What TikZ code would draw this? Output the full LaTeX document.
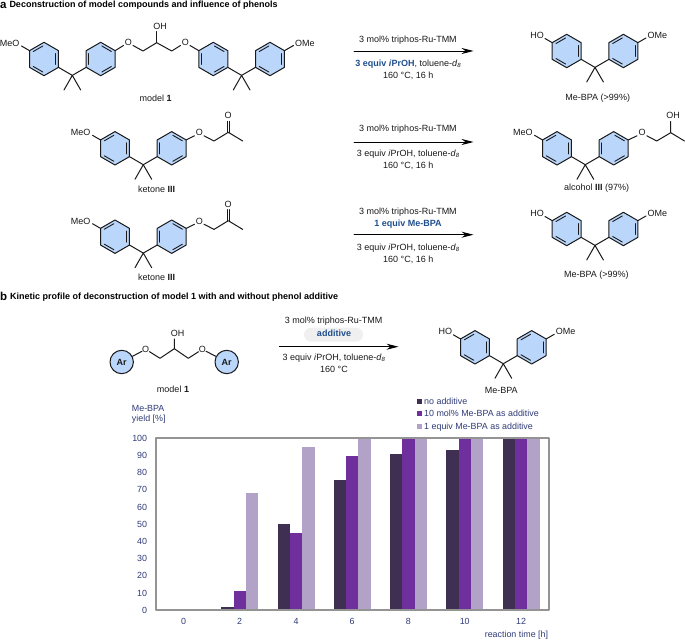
\documentclass[tikz,border=0pt]{standalone}
\usepackage{fontspec}
\setmainfont{Liberation Sans}
\usetikzlibrary{arrows.meta}
\definecolor{ringblue}{HTML}{BAD6FB}
\definecolor{condblue}{HTML}{1F4E8C}
\definecolor{chartblue}{HTML}{2F3B78}
\definecolor{bardark}{HTML}{3F2F52}
\definecolor{barmid}{HTML}{6F2F9D}
\definecolor{barlight}{HTML}{B2A2C7}
\tikzset{
  bond/.style={line width=1pt,color=black!90},
  inbond/.style={line width=0.9pt,color=black!90},
  atomlabel/.style={inner sep=0pt,font=\fontsize{9}{10}\selectfont,color=black!90},
  txt/.style={inner sep=0pt,font=\fontsize{9}{10}\selectfont,color=black!90},
  head/.style={inner sep=0pt,anchor=west,font=\fontsize{9}{10}\selectfont\bfseries},
  letter/.style={inner sep=0pt,anchor=west,font=\fontsize{11.5}{10}\selectfont\bfseries},
  hlcond/.style={txt,font=\fontsize{9}{10}\selectfont\bfseries,color=condblue},
  arnode/.style={draw,circle,bond,fill=ringblue,minimum size=23.4pt,inner sep=0pt,font=\fontsize{9}{10}\selectfont\bfseries},
  chartlbl/.style={inner sep=0pt,font=\fontsize{8.9}{10}\selectfont,color=chartblue},
  rxn/.style={->,>={Stealth[length=12pt,width=6pt]},line width=0.9pt},
  barframe/.style={line width=1.7pt,color=black!42},
}
% hexagon around (#1,#2), #3 turns the inner bonds
\newcommand{\arene}[3]{%
  \begin{scope}[shift={(#1,#2)}]
  \draw[bond,fill=ringblue,line join=round] (90:16.7)--(150:16.7)--(210:16.7)--(270:16.7)--(330:16.7)--(30:16.7)--cycle;
  \foreach \m in {0,120,240}
    \draw[inbond] ({\m+#3-25}:13.06)--({\m+#3+25}:13.06);
  \end{scope}}
% two rings and the CMe2 between them
\newcommand{\bpa}[4]{%
  \arene{#1}{#2}{#3}
  \arene{#1+56.7}{#2}{#4}
  \begin{scope}[shift={(#1,#2)},line cap=round]
  \draw[bond] (14.5,8.35)--(28.3,16.4)--(42.2,8.35);
  \draw[bond] (20,31)--(28.3,16.4)--(36.7,31);
  \end{scope}}
\begin{document}
\begin{tikzpicture}[x=1pt,y=-1pt,line cap=round,line join=round]
\useasboundingbox (0,0) rectangle (685,644);
\node[letter] (heada) at (0,5.2) {a};
\node[head] (titlea) at (9.3,5.2) {Deconstruction of model compounds and influence of phenols};
\node[letter] (headb) at (0,296.8) {b};
\node[head] (titleb) at (10,297.3) {Kinetic profile of deconstruction of model 1 with and without phenol additive};
% model 1
\bpa{44}{59}{0}{60}
\bpa{213.3}{59}{60}{0}
\node[atomlabel,anchor=east] (meoa) at (19.5,43) {MeO};
\draw[bond] (29.5,50.65)--(21.5,46);
\node[atomlabel] (oa) at (128.3,42.3) {O};
\node[atomlabel] (ob) at (185.3,42.3) {O};
\node[atomlabel] (oha) at (160,26.3) {OH};
\node[atomlabel,anchor=west] (omea) at (295,43) {OMe};
\draw[bond] (115.2,50.65)--(123.5,45.5) (133,45.5)--(143,51)--(156.7,42.7)--(171.7,51)--(180.5,45.5) (190,45.5)--(198.8,50.65);
\draw[bond] (156.7,42.7)--(156.7,31.5);
\draw[bond] (284.5,50.65)--(293.5,45.5);
\node[txt] (lblmodela) at (155.7,98) {model \textbf{1}};
% ketone III, twice
\foreach \y/\n in {148.3/k,236.7/l}{
  \bpa{115}{\y}{0}{60}
  \node[atomlabel,anchor=east] (meo\n) at (90.7,\y-15.5) {MeO};
  \node[atomlabel] (o\n) at (199.3,\y-15.5) {O};
  \node[atomlabel] (co\n) at (228,\y-32.5) {O};
  \draw[bond] (100.5,\y-8.35)--(92.5,\y-13);
  \draw[bond] (186.2,\y-8.35)--(194.5,\y-12.5) (204,\y-12.5)--(214,\y-7.3)--(228.3,\y-16)--(242.7,\y-7.3);
  \draw[bond] (227,\y-16)--(227,\y-27) (229.6,\y-16)--(229.6,\y-27);
}
\node[txt] (lblketa) at (156.7,189.3) {ketone \textbf{III}};
\node[txt] (lblketb) at (156.7,277) {ketone \textbf{III}};
% products
\bpa{566.7}{51}{0}{0}
\node[atomlabel,anchor=east] (hoa) at (544,35) {HO};
\node[atomlabel,anchor=west] (omeb) at (647.3,35) {OMe};
\draw[bond] (552.2,42.65)--(545,38.5) (637.8,42.65)--(646,38);
\node[txt] (lblbpaa) at (597.7,97.7) {Me-BPA (>99\%)};
\bpa{557}{148.3}{0}{60}
\node[atomlabel,anchor=east] (meoc) at (532.7,132.8) {MeO};
\node[atomlabel] (oc) at (642,132.8) {O};
\node[atomlabel] (ohc) at (673,115.7) {OH};
\draw[bond] (542.5,139.95)--(534.5,135.3) (628.2,139.95)--(637,135.8) (646.8,135.8)--(656.7,141)--(670.7,132.7)--(684.5,141) (670.7,132.7)--(670.7,121.5);
\node[txt] (lblalc) at (596.7,187.7) {alcohol \textbf{III} (97\%)};
\bpa{566.7}{229}{0}{0}
\node[atomlabel,anchor=east] (hob) at (544,213) {HO};
\node[atomlabel,anchor=west] (omec) at (647.3,213) {OMe};
\draw[bond] (552.2,220.65)--(545,216.5) (637.8,220.65)--(646,216);
\node[txt] (lblbpab) at (596.3,274.7) {Me-BPA (>99\%)};
% arrows and conditions
\coordinate (arrAs) at (354,51);
\coordinate (arrAe) at (473.5,51);
\coordinate (arrBs) at (354,142);
\coordinate (arrBe) at (473.5,142);
\coordinate (arrCs) at (354,234.7);
\coordinate (arrCe) at (473.5,234.7);
\draw[rxn] (arrAs)--(arrAe);
\draw[rxn] (arrBs)--(arrBe);
\draw[rxn] (arrCs)--(arrCe);
\node[txt] (cata) at (408,39.7) {3 mol\% triphos-Ru-TMM};
\node[txt] (conda) at (408.3,63.7) {\textcolor{condblue}{\textbf{3 equiv \textit{i}PrOH}}, toluene-\textit{d}\textsubscript{\textit{8}}};
\node[txt] (tempa) at (408.3,75.7) {160 °C, 16 h};
\node[txt] (catb) at (408,129.5) {3 mol\% triphos-Ru-TMM};
\node[txt] (condb) at (408.3,154) {3 equiv \textit{i}PrOH, toluene-\textit{d}\textsubscript{\textit{8}}};
\node[txt] (tempb) at (408.3,165.7) {160 °C, 16 h};
\node[txt] (catc) at (408,212) {3 mol\% triphos-Ru-TMM};
\node[hlcond] (addc) at (408,224) {1 equiv Me-BPA};
\node[txt] (condc) at (408.3,248) {3 equiv \textit{i}PrOH, toluene-\textit{d}\textsubscript{\textit{8}}};
\node[txt] (tempc) at (408.3,259.7) {160 °C, 16 h};
% scheme b
\node[atomlabel] (ohd) at (177.7,333.7) {OH};
\node[atomlabel] (od) at (145.7,349.3) {O};
\node[atomlabel] (oe) at (202.3,349.3) {O};
\node[arnode] (ara) at (121.7,362) {Ar};
\node[arnode] (arb) at (226.7,362) {Ar};
\draw[bond] (ara)--(od) (od)--(160,358.3)--(174.3,348.7)--(188.3,358.3)--(oe) (oe)--(arb) (174.3,348.7)--(174.3,339);
\node[txt] (lblmodelb) at (173,389.3) {model \textbf{1}};
\fill[black!6,rounded corners=7pt] (304,327.7) rectangle (363,341.7);
\node[txt] (catd) at (333.7,321.3) {3 mol\% triphos-Ru-TMM};
\node[hlcond] (addd) at (334,333.7) {additive};
\coordinate (arrDs) at (279.3,346.7);
\coordinate (arrDe) at (398.5,346.7);
\draw[rxn] (arrDs)--(arrDe);
\node[txt] (condd) at (334,357.7) {3 equiv \textit{i}PrOH, toluene-\textit{d}\textsubscript{\textit{8}}};
\node[txt] (tempd) at (334,369.3) {160 °C};
\bpa{475}{347.3}{0}{0}
\node[atomlabel,anchor=east] (hoc) at (452.3,331) {HO};
\node[atomlabel,anchor=west] (omed) at (555.6,331) {OMe};
\draw[bond] (460.5,338.95)--(453.3,334.8) (546.2,338.95)--(554.3,334.3);
\node[txt] (lblbpac) at (501.3,390.3) {Me-BPA};
% bar chart
\foreach \gx/\va/\vb/\vc in {239.7/2/11/68,296/50/45/95,352/76/90/100,408.3/91/100/100,464.7/93/100/100,521/100/100/100}{
  \fill[bardark] (\gx-18.5,610.3) rectangle (\gx-6.2,{610.3-1.72*\va});
  \fill[barmid] (\gx-6.2,610.3) rectangle (\gx+6.2,{610.3-1.72*\vb});
  \fill[barlight] (\gx+6.2,610.3) rectangle (\gx+18.5,{610.3-1.72*\vc});
}
\draw[barframe] (155.7,438.3) rectangle (549.3,610.3);
\foreach \v in {0,10,...,100}
  \node[chartlbl,anchor=east] (ytick\v) at (147.3,{610.3-1.72*\v}) {\v};
\foreach \t/\gx in {0/183.7,2/239.7,4/296,6/352,8/408.3,10/464.7,12/521}
  \node[chartlbl] (xtick\t) at (\gx,621.7) {\t};
\node[chartlbl,anchor=west] (ylabela) at (131.7,408.3) {Me-BPA};
\node[chartlbl,anchor=west] (ylabelb) at (131.7,419.3) {yield [\%]};
\node[chartlbl,anchor=east] (xlabel) at (548.3,635) {reaction time [h]};
\foreach \c/\y/\s/\n in {bardark/401/no additive/lega,barmid/413.7/10 mol\% Me-BPA as additive/legb,barlight/426.7/1 equiv Me-BPA as additive/legc}{
  \fill[\c] (417,\y-2.5) rectangle (422,\y+2.5);
  \node[chartlbl,anchor=west] (\n) at (424,\y) {\s};
}
\end{tikzpicture}
\end{document}
